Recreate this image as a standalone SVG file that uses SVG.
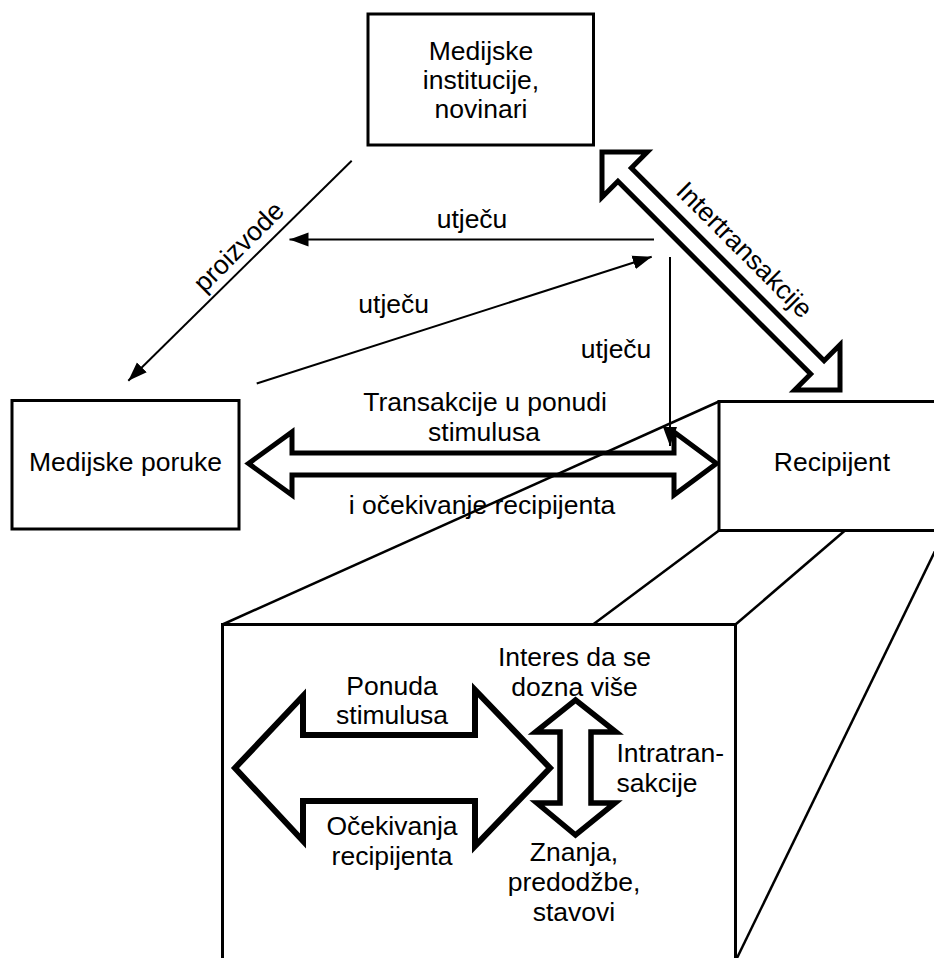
<svg xmlns="http://www.w3.org/2000/svg" width="934" height="958" viewBox="0 0 934 958">
<defs>
<style>
.box{fill:#fff;stroke:#000;stroke-width:3}
.lbl{font-family:"Liberation Sans",Arial,Helvetica,sans-serif;font-size:26.5px;fill:#000}
.mid{text-anchor:middle}
.thin{stroke:#000;stroke-width:2;fill:none}
.hollow{fill:#fff;stroke:#000;stroke-width:5;stroke-linejoin:miter;stroke-miterlimit:10}
.proj{stroke:#000;stroke-width:2.5;fill:none}
</style>
<marker id="ah" markerUnits="userSpaceOnUse" markerWidth="20" markerHeight="15" refX="19" refY="7" orient="auto" viewBox="0 0 20 14">
<path d="M0,0 L19,7 L0,14 z" fill="#000"/>
</marker>
</defs>
<rect width="934" height="958" fill="#fff"/>

<g id="zoom-box">
<rect class="box" x="222.5" y="624.5" width="513" height="345"/>
</g>

<g id="connectors">
<polygon class="hollow" points="248.5,463.5 292,432 292,453 674,453 674,432 716.5,463.5 674,495 674,475 292,475 292,495"/>
<g transform="translate(602,152) rotate(45)">
<polygon class="hollow" points="0,0 32,-32 32,-9.5 304.6,-9.5 304.6,-32 336.6,0 304.6,32 304.6,9.5 32,9.5 32,32"/>
</g>
<line class="thin" x1="351.7" y1="160.7" x2="128.3" y2="380.7" marker-end="url(#ah)"/>
<line class="thin" x1="654" y1="239.5" x2="289.5" y2="239.5" marker-end="url(#ah)"/>
<line class="thin" x1="256.7" y1="383.5" x2="651.7" y2="256.7" marker-end="url(#ah)"/>
<line class="thin" x1="670" y1="257" x2="670" y2="446" marker-end="url(#ah)"/>
</g>

<g id="projection">
<line class="proj" x1="222.5" y1="624.5" x2="719" y2="401.5"/>
<line class="proj" x1="593" y1="624.5" x2="719" y2="530.5"/>
<line class="proj" x1="735.5" y1="624.5" x2="845" y2="530.5"/>
<line class="proj" x1="945" y1="530.5" x2="737" y2="958"/>
</g>

<g id="node-institucije">
<rect class="box" x="368" y="14" width="225.5" height="131"/>
<text class="lbl mid" x="481" y="60">Medijske</text>
<text class="lbl mid" x="481" y="89">institucije,</text>
<text class="lbl mid" x="481" y="118">novinari</text>
</g>

<g id="node-poruke">
<rect class="box" x="12" y="400.5" width="227" height="128.5"/>
<text class="lbl mid" x="125.5" y="471">Medijske poruke</text>
</g>

<g id="node-recipijent">
<rect class="box" x="719" y="401.5" width="226" height="129"/>
<text class="lbl mid" x="832" y="471">Recipijent</text>
</g>

<g id="labels">
<text class="lbl mid" transform="translate(240,248) rotate(-45)" x="0" y="7">proizvode</text>
<text class="lbl mid" transform="translate(602,152) rotate(45)" x="170" y="-22.6">Intertransakcije</text>
<text class="lbl mid" x="472" y="228">utječu</text>
<text class="lbl mid" x="393.7" y="313">utječu</text>
<text class="lbl mid" x="616" y="358">utječu</text>
<text class="lbl mid" x="485" y="410.5">Transakcije u ponudi</text>
<text class="lbl mid" x="484" y="440.5">stimulusa</text>
<text class="lbl mid" x="482" y="514">i očekivanje recipijenta</text>
</g>

<g id="node-intra">
<polygon class="hollow" style="stroke-width:6" points="235,768 303,696 303,735 475,735 475,690 550,768 475,846 475,801 303,801 303,841"/>
<polygon class="hollow" style="stroke-width:5.5" points="575.5,700 616,732 591,732 591,803 615,803 575.5,835 537,803 560,803 560,732 535.5,732"/>
<text class="lbl mid" x="392" y="694.5">Ponuda</text>
<text class="lbl mid" x="392" y="723.5">stimulusa</text>
<text class="lbl mid" x="392" y="835">Očekivanja</text>
<text class="lbl mid" x="392" y="865">recipijenta</text>
<text class="lbl mid" x="574.5" y="666">Interes da se</text>
<text class="lbl mid" x="574.5" y="696">dozna više</text>
<text class="lbl" x="616.5" y="762">Intratran-</text>
<text class="lbl" x="616.5" y="792">sakcije</text>
<text class="lbl mid" x="574" y="861">Znanja,</text>
<text class="lbl mid" x="574" y="891">predodžbe,</text>
<text class="lbl mid" x="574" y="921">stavovi</text>
</g>
</svg>
